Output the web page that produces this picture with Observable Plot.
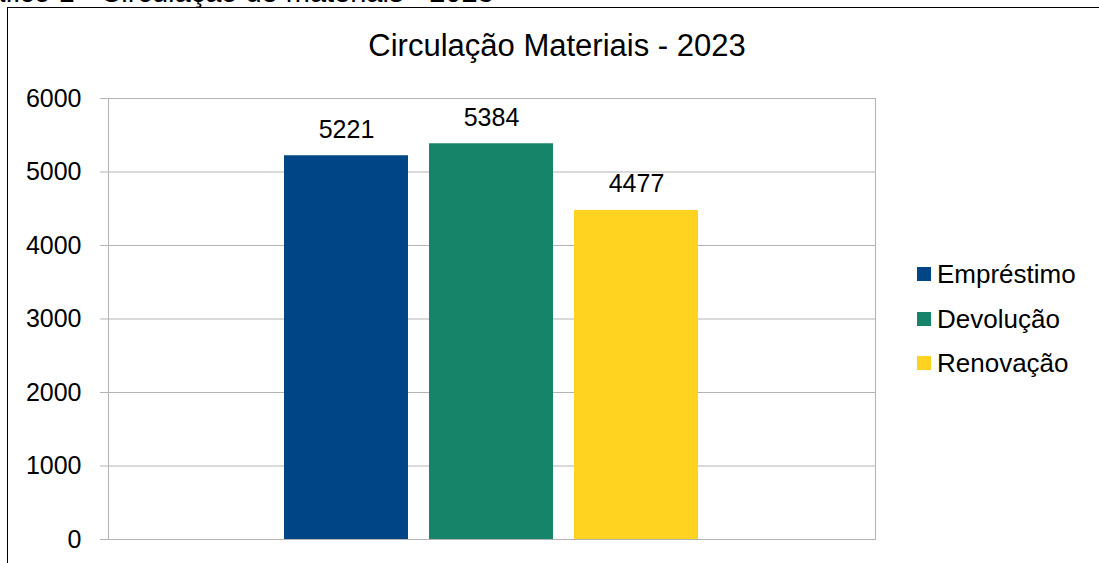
<!DOCTYPE html>
<html>
<head>
<meta charset="utf-8">
<script src="https://cdn.jsdelivr.net/npm/d3@7"></script>
<script src="https://cdn.jsdelivr.net/npm/@observablehq/plot@0.6"></script>
<style>
  html, body { margin: 0; padding: 0; background: #fff; }
  body { width: 1099px; height: 563px; position: relative; overflow: hidden; font-family: "Liberation Sans", Arial, sans-serif; color: #000; }
  #caption { position: absolute; left: -43px; top: -22px; font-size: 29px; line-height: 29px; white-space: nowrap; }
  #frame { position: absolute; left: 7px; top: 7px; width: 1100px; height: 600px; border-top: 1px solid #000; border-left: 1px solid #000; }
  #chart { position: absolute; left: 0; top: 0; }
  #title { position: absolute; left: 0; width: 1114px; top: 28px; text-align: center; font-size: 31px; line-height: 36px; }
  #legend { position: absolute; left: 917px; top: 256px; }
  .item { position: relative; height: 44.5px; font-size: 26px; line-height: 36px; white-space: nowrap; }
  .sw { position: absolute; left: 0; top: 11px; width: 14px; height: 14px; }
  .lb { position: absolute; left: 20px; top: 0; }
</style>
</head>
<body>
<div id="caption">Gráfico 1 - Circulação de materiais - 2023</div>
<div id="frame"></div>
<div id="chart"></div>
<div id="title">Circulação Materiais - 2023</div>
<div id="legend"></div>
<script>
const series = ["Empréstimo", "Devolução", "Renovação"];
const values = [5221, 5384, 4477];
const colors = ["#004586", "#168468", "#ffd320"];
const yTicks = [0, 1000, 2000, 3000, 4000, 5000, 6000];

const data = series.map((s, i) => ({serie: s, value: values[i]}));

const chart = Plot.plot({
  width: 1099,
  height: 563,
  marginLeft: 108,
  marginRight: 224,
  marginTop: 98,
  marginBottom: 24,
  style: {background: "transparent", fontFamily: "'Liberation Sans', Arial, sans-serif", color: "#000"},
  x: {domain: series, paddingInner: 0.1448, paddingOuter: 1.217, axis: null},
  y: {domain: [0, 6000], ticks: yTicks},
  color: {domain: series, range: colors},
  marks: [
    Plot.gridY(yTicks, {stroke: "#b3b3b3", strokeOpacity: 1}),
    Plot.frame({stroke: "#b3b3b3"}),
    Plot.axisY(yTicks, {tickSize: 8, tickPadding: 19, stroke: "#b3b3b3", fill: "#000", fontSize: 25, label: null, tickFormat: d => String(d)}),
    Plot.barY(data, {x: "serie", y: "value", fill: "serie"}),
    Plot.text(data, {x: "serie", y: "value", text: d => String(d.value), dy: -18, lineAnchor: "bottom", fontSize: 25, fill: "#000"})
  ]
});
document.getElementById("chart").appendChild(chart);

const legend = document.getElementById("legend");
series.forEach((s, i) => {
  const item = document.createElement("div");
  item.className = "item";
  const sw = document.createElement("div");
  sw.className = "sw";
  sw.style.background = colors[i];
  const lb = document.createElement("div");
  lb.className = "lb";
  lb.textContent = s;
  item.appendChild(sw);
  item.appendChild(lb);
  legend.appendChild(item);
});
</script>
</body>
</html>
